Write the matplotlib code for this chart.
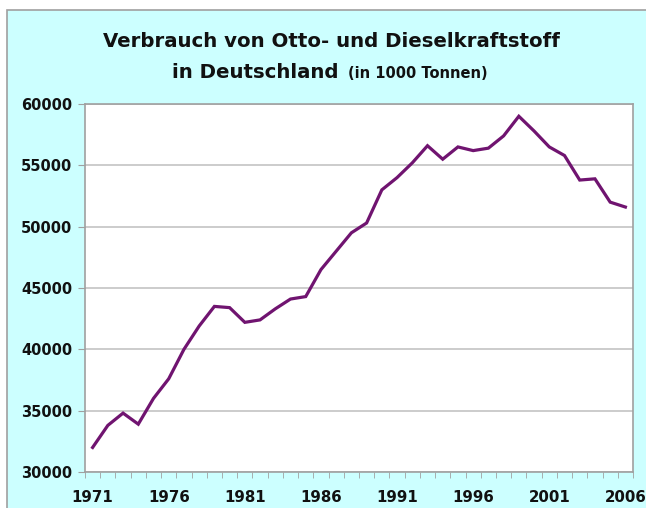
import numpy as np
import matplotlib.pyplot as plt
from matplotlib.patches import Rectangle

# Verbrauch von Otto- und Dieselkraftstoff (in 1000 Tonnen)
years = list(range(1971, 2007))
consumption = [32000, 33800, 34800, 33900, 36000, 37600, 40000, 41900, 43500, 43400,
               42200, 42400, 43300, 44100, 44300, 46500, 48000, 49500, 50300, 53000,
               54000, 55200, 56600, 55500, 56500, 56200, 56400, 57400, 59000, 57800,
               56500, 55800, 53800, 53900, 52000, 51600]
label_years = [1971, 1976, 1981, 1986, 1991, 1996, 2001, 2006]
y_ticks = [30000, 35000, 40000, 45000, 50000, 55000, 60000]

panel_color = '#CCFFFF'
line_color = '#701470'

fig = plt.figure(figsize=(6.46, 5.08), dpi=100)
fig.patch.set_facecolor('white')
panel = Rectangle((7 / 646, -0.01), 1.0, (508 - 10) / 508 + 0.01,
                  transform=fig.transFigure, facecolor=panel_color,
                  edgecolor='#A0A0A0', linewidth=1.2, zorder=-10)
fig.patches.append(panel)

ax = fig.add_axes([85 / 646, 36 / 508, 548 / 646, 368 / 508])
ax.set_facecolor('white')

x = np.arange(len(years))
ax.plot(x, consumption, color=line_color, linewidth=2.3, solid_joinstyle='miter', zorder=3)

ax.set_xlim(-0.5, len(years) - 0.5)
ax.set_ylim(30000, 60000)
ax.set_yticks(y_ticks)
ax.set_yticklabels([str(v) for v in y_ticks])
ax.set_xticks([years.index(y) for y in label_years])
ax.set_xticklabels([str(y) for y in label_years])
ax.set_xticks(np.arange(-0.5, len(years)), minor=True)

ax.grid(axis='y', color='#C8C8C8', linewidth=1.3)
ax.set_axisbelow(True)

for side in ['top', 'right', 'left', 'bottom']:
    ax.spines[side].set_color('#A0A0A0')
    ax.spines[side].set_linewidth(1.2)

ax.tick_params(axis='x', which='major', length=0, pad=13, labelsize=10.8)
ax.tick_params(axis='x', which='minor', length=4, color='#A0A0A0', direction='out')
ax.tick_params(axis='y', which='major', length=5, color='#A0A0A0', pad=4, labelsize=10.5)
for lbl in ax.get_xticklabels() + ax.get_yticklabels():
    lbl.set_fontweight('bold')
    lbl.set_color('#111111')

fig.text(331 / 646, 1 - 47 / 508, 'Verbrauch von Otto- und Dieselkraftstoff',
         ha='center', va='baseline', fontsize=14.2, fontweight='bold', color='#111111')
fig.text(172 / 646, 1 - 78 / 508, 'in Deutschland',
         ha='left', va='baseline', fontsize=14.2, fontweight='bold', color='#111111')
fig.text(348 / 646, 1 - 78 / 508, '(in 1000 Tonnen)',
         ha='left', va='baseline', fontsize=10.5, fontweight='bold', color='#111111')

fig.savefig('out.png', dpi=100)
